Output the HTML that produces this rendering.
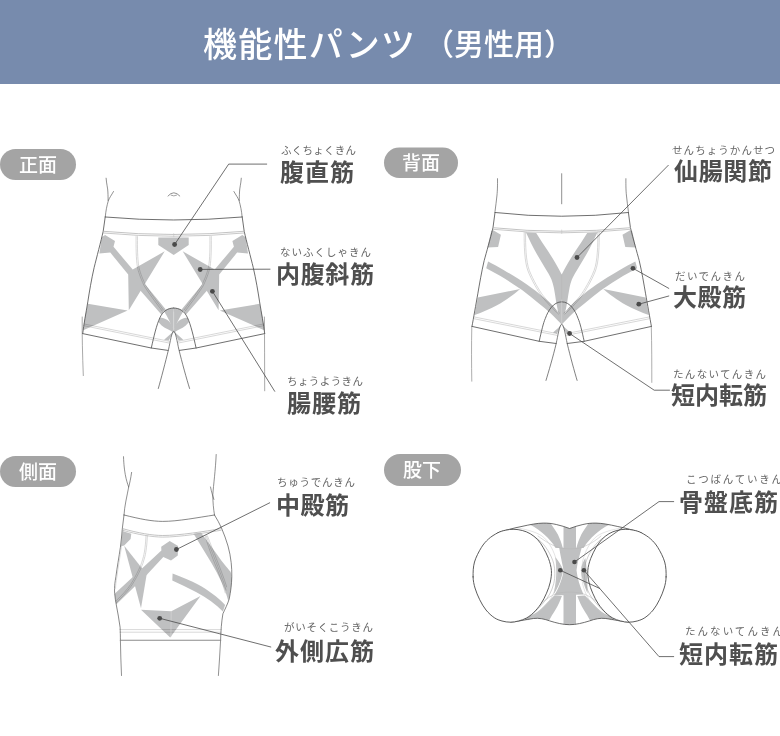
<!DOCTYPE html>
<html><head><meta charset="utf-8"><title>機能性パンツ</title>
<style>html,body{margin:0;padding:0;background:#fff;font-family:"Liberation Sans",sans-serif}svg{display:block}.sr{position:absolute;left:0;top:0;width:1px;height:1px;overflow:hidden;clip:rect(0 0 0 0);clip-path:inset(50%);white-space:nowrap;opacity:0}body{width:780px;height:736px;overflow:hidden;position:relative}
svg text{font-family:"Liberation Sans","Noto Sans CJK JP",sans-serif}
.ttl{fill:#fff;font-weight:500}
.badge{fill:#fff;font-size:19px;font-weight:500;text-anchor:middle}
.lbl{fill:#4f4f4f;font-size:24px;font-weight:700}
.rb{fill:#666666;font-size:10.5px}
</style>
</head><body>
<svg width="780" height="736" viewBox="0 0 780 736" role="img" aria-label="機能性パンツ（男性用）">
<rect x="0" y="0" width="780" height="84" fill="#778bad"/>
<text class="ttl" x="203" y="57" font-size="34" textLength="212" lengthAdjust="spacing">機能性パンツ</text>
<text class="ttl" x="424" y="55" font-size="30">（男性用）</text>
<rect x="0" y="149" width="76" height="31" rx="15.5" fill="#a4a4a4"/><text class="badge" x="38" y="172">正面</text>
<rect x="384" y="147.5" width="74" height="30.5" rx="15.25" fill="#a4a4a4"/><text class="badge" x="421" y="170">背面</text>
<rect x="0" y="456" width="76" height="31" rx="15.5" fill="#a4a4a4"/><text class="badge" x="38" y="478.5">側面</text>
<rect x="384" y="454" width="77" height="32" rx="16.0" fill="#a4a4a4"/><text class="badge" x="422" y="477">股下</text>
<text class="lbl" x="280" y="181" textLength="74" lengthAdjust="spacing">腹直筋</text>
<text class="rb" x="281" y="154" textLength="75" lengthAdjust="spacing">ふくちょくきん</text>
<text class="lbl" x="276" y="283" textLength="98" lengthAdjust="spacing">内腹斜筋</text>
<text class="rb" x="280" y="256" textLength="91" lengthAdjust="spacing">ないふくしゃきん</text>
<text class="lbl" x="287" y="412" textLength="74" lengthAdjust="spacing">腸腰筋</text>
<text class="rb" x="287" y="385" textLength="76" lengthAdjust="spacing">ちょうようきん</text>
<text class="lbl" x="674" y="180" textLength="98" lengthAdjust="spacing">仙腸関節</text>
<text class="rb" x="672" y="154" textLength="103" lengthAdjust="spacing">せんちょうかんせつ</text>
<text class="lbl" x="673" y="306" textLength="73" lengthAdjust="spacing">大殿筋</text>
<text class="rb" x="675" y="280" textLength="70" lengthAdjust="spacing">だいでんきん</text>
<text class="lbl" x="671" y="404" textLength="96" lengthAdjust="spacing">短内転筋</text>
<text class="rb" x="673" y="378" textLength="93" lengthAdjust="spacing">たんないてんきん</text>
<text class="lbl" x="276" y="514" textLength="73" lengthAdjust="spacing">中殿筋</text>
<text class="rb" x="277" y="485.5" textLength="78" lengthAdjust="spacing">ちゅうでんきん</text>
<text class="lbl" x="275" y="659.5" textLength="99" lengthAdjust="spacing">外側広筋</text>
<text class="rb" x="284" y="631" textLength="89" lengthAdjust="spacing">がいそくこうきん</text>
<text class="lbl" x="679" y="511" textLength="99" lengthAdjust="spacing">骨盤底筋</text>
<text class="rb" x="686" y="482.5" textLength="96" lengthAdjust="spacing">こつばんていきん</text>
<text class="lbl" x="679" y="663" textLength="99" lengthAdjust="spacing">短内転筋</text>
<text class="rb" x="685" y="634.5" textLength="98" lengthAdjust="spacing">たんないてんきん</text>
<!-- ===== FRONT VIEW ===== -->
<g id="front" fill="none" stroke-linecap="round" stroke-linejoin="round">
  <defs>
    <g id="frontL">
      <!-- gray shapes -->
      <g fill="#bfc0c1" stroke="none">
        <path d="M105.1,235 L115,241 L113.5,246.8 L132.7,269.6 L164.7,251.3 L128.8,310.3 L128.2,274.4 L110.3,252.6 L99.4,253.5 L101.7,237.2 Z"/>
        <path d="M132,281 L136,285.5 L140.8,290.9 L160.7,313.7 L161.6,314.6 C162.8,312.6 164.2,310.9 165.8,309.6 L144.4,283.5 L139,277 Z"/>
        <path d="M164,311.2 C166.5,309 170,308 173.7,308 L173.7,331.3 C171.3,324.5 168,317.5 164,311.2 Z"/>
        <path d="M159.6,317.6 C162.5,317.8 165,318.6 167,319.8 C169.5,321.4 171.3,323.8 172.3,326 L173.7,330.3 L173.7,333 C172,331.6 170.3,330.6 168.3,329.6 C165.8,328.4 163.5,327 161.6,325.4 L158.6,322.2 Z"/>
        <path d="M173.7,331.3 L164.1,339.8 L168.8,340.4 Z"/>
        <path d="M87.8,303.8 L127.6,310.5 L83.2,330.2 L84.6,319 Z"/>
      </g>
      <!-- light seams -->
      <g stroke="#bebebe" stroke-width="0.6" style="mix-blend-mode:multiply">
        <path d="M136.1,236.5 C135.9,248 136.2,259 137.3,266.4 C138.4,272 140,276.5 144,285.5 C148,292 155,301.5 162.2,311"/>
        <path d="M137.5,236.6 C137.3,248 137.6,258.8 138.7,266 C139.8,271.6 141.4,276 145.3,284.7 C149.3,291.2 156.2,300.6 163.4,310"/>
        <path d="M84,324 L169.2,341.3"/>
        <path d="M83.8,325.7 L169,343"/>
      </g>
      <!-- torso -->
      <g stroke="#555" stroke-width="0.65">
        <path d="M106.1,178.2 C106.5,184 107.8,188 107.9,192 C108,196 108.2,198 108.1,200.5"/>
        <path d="M113.5,191.5 C111.5,195 109.3,198 108.3,200.8 C106.8,206 105.8,211 105.3,216.7"/>
      </g>
      <!-- shorts outline -->
      <g stroke="#4a4a4a" stroke-width="0.8">
        <path d="M105.2,217 L103.2,231.3 C101,241 96.5,258 94.2,267.3 C91.5,279 89.3,292 87.8,301.9 C86,313 83.8,324 82.7,333.6"/>
        <path d="M82.7,333.6 L151.3,348 L168,350.4"/>
        <path d="M151.3,348 C154,336 156.5,325 160,317.5 C163,311 168,308 173.7,308"/>
      </g>
    </g>
  </defs>
  <use href="#frontL"/>
  <use href="#frontL" transform="translate(347.4,0) scale(-1,1)"/>
  <!-- waistband -->
  <path d="M105.2,217 Q173.7,223 242.2,217" stroke="#4a4a4a" stroke-width="0.8"/>
  <path d="M103.2,231.3 Q173.7,237.7 244.2,231.3" stroke="#a9a9a9" stroke-width="0.7"/>
  <path d="M103.4,233 Q173.7,239.5 244,233" stroke="#b2b2b2" stroke-width="0.7"/>
  <path d="M158.3,237.4 L188.7,237.4 L188.7,245 L173.7,255.1 L158.3,245 Z" fill="#bfc0c1" stroke="none"/>
  <!-- center seam -->
  <path d="M173.7,312 L173.7,331" stroke="#dedede" stroke-width="0.6"/>
  <path d="M173.7,233.6 L173.7,236.8" stroke="#bbb" stroke-width="0.5"/>
  <!-- belly button -->
  <path d="M168,196 Q173.7,189.3 179.8,196" stroke="#555" stroke-width="0.65"/>
  <path d="M171,195.2 Q173.8,196.8 176.6,195.2" stroke="#666" stroke-width="0.6"/>
  <!-- legs -->
  <g stroke="#6e6e6e" stroke-width="0.6">
    <path d="M82.2,317 C82,335 82.5,355 83.3,375.6"/>
    <path d="M264.4,317 C264.6,340 264.6,365 264.7,390.8"/>
  </g>
  <g stroke="#4a4a4a" stroke-width="0.7">
    <path d="M158.3,388.5 C161,379 165.5,362 168.6,349.2 C170.2,342 171.8,331.3 173.7,331.3 C175.6,331.3 177.2,342 178.8,349.2 C181.9,362 186.6,379 189.6,388.5"/>
  </g>
  <!-- leaders -->
  <g stroke="#4a4a4a" stroke-width="0.8">
    <path d="M174.6,244.5 L228.7,164.1 L266.7,164.1"/>
    <path d="M200.2,269.4 L270,269.2"/>
    <path d="M212.4,291.3 L274.7,391.3"/>
  </g>
  <g fill="#4a4a4a" stroke="none">
    <circle cx="174.6" cy="244.5" r="2.4"/>
    <circle cx="200.2" cy="269.5" r="2.4"/>
    <circle cx="212.4" cy="291.3" r="2.4"/>
  </g>
</g>
<!-- ===== BACK VIEW ===== -->
<g id="back" fill="none" stroke-linecap="round" stroke-linejoin="round">
  <defs>
    <g id="backL">
      <g fill="#bfc0c1" stroke="none">
        <path d="M493.2,230.3 L500.9,234.8 L498.1,247 L487.4,247.6 L491.3,231 Z"/>
        <path d="M488.1,261.5 C493,264 498.5,267 503.6,270 C512,275 520,279.8 526.9,284.4 C533,288.6 538.5,293 543.1,296.9 C547,300 550.2,303 553,305.9 C555.2,308.3 557,310.8 558.3,313.1 L561.7,318 L561.7,324.5 C560.2,323 558.8,321.6 557.5,320.3 C555,317.8 552.8,315.4 550.3,313.1 C546.5,309.6 542.6,306.4 538.6,303.2 C533.5,299 528,294.4 522.4,290.2 C515,285 507.5,280.2 500,275.8 C495.5,273.2 490.8,270.7 486.2,268.2 Z"/>
        <path d="M520.1,288.9 L477.8,297.6 L474.6,315 C482,312.5 490,309 497,305.3 C502,302.5 506.5,299.5 509.9,297 C514,294 517,291.5 520.1,288.9 Z"/>
        <path d="M561.5,324.9 L553,332.6 L557,333.4 Z"/>
      </g>
      <g stroke="#bebebe" stroke-width="0.6" style="mix-blend-mode:multiply">
        <path d="M524.2,232.3 C524,245 524.5,262 528,271 C532,281 538,291 541.9,296.4 C548,304 554,310 558.6,314"/>
        <path d="M525.6,232.4 C525.4,245 525.9,261.6 529.3,270.4 C533.2,280.2 539.1,290.2 543,295.5 C549,303.1 555,309 559.5,313"/>
        <path d="M474.5,317 L557,333.6"/>
        <path d="M474.3,318.8 L556.8,335.3"/>
      </g>
      <g stroke="#555" stroke-width="0.65">
        <path d="M497.5,178.7 C497.6,186 497.4,191 497,195 C496.5,201 495.6,206 495,211.5"/>
      </g>
      <g stroke="#4a4a4a" stroke-width="0.8">
        <path d="M495,212.5 L493,227.5 C490,240 486.5,252 484.2,260.5 C481.5,272 479.5,284 477.8,293.8 C476,304 473.5,318 472,326.4"/>
        <path d="M472,326.4 L539.2,341.3 L556.2,343.5"/>
        <path d="M539.2,341.3 C541.5,331 543.3,323 545.3,318.5 C548,311 553,301.8 561.7,301.8"/>
      </g>
    </g>
  </defs>
  <!-- Y shape -->
  <path fill="#bfc0c1" stroke="none" d="M525.9,232.3 C529,239 533,247.5 536.8,254 C541,261 545,268 548.3,273.3 C550.5,277 552.5,281 553.9,288 C554.8,292.5 555.4,297 556.1,301.4 C556.9,306 557.8,310.5 558.8,314.9 C559.6,318.3 560.6,321.5 561.7,324 C562.8,321.5 563.8,318.3 564.6,314.9 C565.6,310.5 566.5,306 567.3,301.4 C568,297 568.6,292.5 569.5,288 C570.9,281 572.9,277 575.1,273.3 C578.4,268 582.4,261 586.6,254 C590.4,247.5 594.4,239 597.5,232.3 L587.2,232.9 C583.4,239 579.4,245.5 575.1,251.5 C570.4,259 565.4,267 561.7,274.6 C558,267 553,259 548.3,251.5 C544,245.5 540,239 536.2,232.9 Z"/>
  <use href="#backL"/>
  <use href="#backL" transform="translate(1123.4,0) scale(-1,1)"/>
  <path d="M495,212.5 Q561.7,220 628.4,212.5" stroke="#4a4a4a" stroke-width="0.8"/>
  <path d="M493,227.7 Q561.7,234.8 630.4,227.7" stroke="#a9a9a9" stroke-width="0.7"/>
  <path d="M493.1,229.3 Q561.7,236.4 630.3,229.3" stroke="#b2b2b2" stroke-width="0.7"/>
  <path d="M561.7,275 L561.7,300" stroke="#b4b5b6" stroke-width="0.5"/>
  <path d="M561.7,300 L561.7,324" stroke="#d6d6d6" stroke-width="0.6"/>
  <path d="M561.7,230 L561.7,233.4" stroke="#bbb" stroke-width="0.5"/>
  <path d="M561.7,173.7 L561.7,203.8" stroke="#555" stroke-width="0.65"/>
  <g stroke="#777" stroke-width="0.6">
    <path d="M471.8,326.8 C471.4,345 471.5,365 471.8,381.2"/>
    <path d="M651.3,326.8 C651.8,345 651.8,365 651.8,382.4"/>
  </g>
  <path stroke="#4a4a4a" stroke-width="0.7" d="M546,380.4 C548.5,372 553,357 556.2,343.5 C557.8,336 559.6,324.2 561.7,324.2 C563.8,324.2 565.6,336 567.2,343.5 C570.4,357 574.6,372 577.1,380.4"/>
  <g stroke="#4a4a4a" stroke-width="0.8">
    <path d="M577,257.5 L668.3,165.3"/>
    <path d="M633,268.3 L668.8,288.4"/>
    <path d="M638.8,304.2 L668.8,296"/>
    <path d="M569.6,333.5 L654.2,390.2 L669.5,390.2"/>
  </g>
  <g fill="#4a4a4a" stroke="none">
    <circle cx="577" cy="257.5" r="2.4"/>
    <circle cx="633" cy="268.3" r="2.4"/>
    <circle cx="638.8" cy="304.2" r="2.4"/>
    <circle cx="569.6" cy="333.5" r="2.4"/>
  </g>
</g>
<!-- ===== SIDE VIEW ===== -->
<g id="side" fill="none" stroke-linecap="round" stroke-linejoin="round">
  <g fill="#bfc0c1" stroke="none">
    <path d="M123,531.3 L131.3,533.8 L130.6,539 L124.2,545.4 L120.8,546.2 L122.4,531 Z"/>
    <path d="M124.2,545.8 L146.7,574.2 L141,608.2 Z"/>
    <path d="M169.7,540.9 L178.1,546 L177.8,555.6 L171,560.4 L163.3,556.9 L147.3,574.2 L116.2,604.5 L114.7,593.8 L161.4,550.5 L161.2,546.7 Z"/>
    <path d="M193.6,533.8 L201,532.6 C205,538.5 209.5,544 213.8,549.9 C217.5,555 221,560 224.1,564 C226.5,567 229,570 230.5,571.7 C231.5,574 231.8,577 231.8,580 C231.5,588 230,595 228.3,601 C226.5,594 224,587 221.5,581.9 C218.5,575.5 215,569 211.3,562.7 C205.5,553 199.5,543.5 193.6,533.8 Z"/>
    <path d="M172.6,573.6 C182,577 191,581 198.5,584.8 C208,590 218,597.5 225.1,604.9 L222.9,611.6 C216,604.5 207,597.5 196,592 C188,588 180,584 172.3,580.6 Z"/>
    <path d="M141,609.8 L171.3,611.2 L200.5,595.9 L170.2,637.4 Z"/>
  </g>
  <g stroke="#bebebe" stroke-width="0.6" style="mix-blend-mode:multiply">
    <path d="M146,535.8 C145.5,545 144.8,551 143.5,556.3 C142.3,561 141,565 139,569.1 C136.5,574.5 133.5,580 130.6,584.5 C127.5,589 122,595.5 115.8,601"/>
    <path d="M147.4,535.9 C146.9,545 146.2,551.2 144.9,556.6 C143.7,561.3 142.4,565.4 140.4,569.5 C137.9,574.9 134.9,580.4 132,584.9 C128.9,589.4 123,596.5 116.2,602.6"/>
    <path d="M207.4,535.8 C210.5,544 213.5,551.5 216.4,558.8 C220,568 224,578 226.7,587"/>
    <path d="M206.2,535.6 C209,544 211.8,551.5 214.8,559 C218.5,568.5 223,579 226,590"/>
    <path d="M205,535.4 C207.5,544 210.2,552 213.2,559.5 C217,569 221.8,580 225.3,593"/>
    <path d="M119.8,629.6 L221.3,629.6"/>
    <path d="M120,632.2 L221.1,632.2"/>
  </g>
  <path d="M122.9,528.7 C138,533 152,535.5 162.7,535.5 C180,535.5 205,531.3 220.9,528.7" stroke="#a9a9a9" stroke-width="0.7"/>
  <path d="M122.7,530.3 C138,534.6 152,537.1 162.7,537.1 C180,537.1 205,532.9 221.3,530.2" stroke="#b2b2b2" stroke-width="0.7"/>
  <g stroke="#555" stroke-width="0.65">
    <path d="M123.5,456.7 C123.8,465 124.5,470 125.3,474.7 C126.3,480 127.5,484 128.7,487 C127,496 124.5,506 124,515"/>
    <path d="M131.6,472.4 C130.8,478 129.8,483 128.7,487"/>
    <path d="M216.2,454.5 C215.5,470 213.5,485 212.8,494.9 C212.8,502 213.5,509 214.5,515"/>
    <path d="M210.5,487 C211.5,492 212.8,496 213.9,499.4"/>
    <path d="M120.4,640.3 C120.6,652 121,664 121.5,675.5"/>
    <path d="M220.6,640.3 C220,652 219.2,664 218.4,675.5"/>
  </g>
  <g stroke="#555" stroke-width="0.7">
    <path d="M124,515 C140,519 152,521.4 162.7,521.4 C178,521.4 198,517.5 214.5,515"/>
    <path d="M124,515 L122.3,528.7 C121.8,535 121.2,541 120.4,547.3 C119,557 117,568 115.9,576.8 C115,582 114.6,585 114.6,588.3 C114.5,590 114.5,592 114.7,593.6 C115,597.5 115.6,601 116.3,604.9 C117.5,612 119.3,620 120.1,627.3 C120.3,631 120.4,636 120.4,640.3"/>
    <path d="M214.5,515 C217,519 219.5,523.5 221.5,528 C224,534 226.3,540 228,546 C229.5,551.5 230.6,557 231.2,562.7 C231.7,567.5 231.9,572 231.8,576.8 C231.6,584 230.8,591.5 229.2,599 C227.5,604.5 225,609 222.9,613.8 C221.5,622 220.8,631 220.6,640.3"/>
  </g>
  <path d="M120.4,640.3 L220.6,640.3" stroke="#8c8c8c" stroke-width="1.1"/>
  <path d="M171.2,611.5 L170.9,636.5" stroke="#d9d9d9" stroke-width="0.6"/>
  <path d="M123.3,529.5 C122.8,535 122.2,541 121.4,547.3 C120,557 118,568 116.9,576.8 C116,582 115.6,585 115.6,588.3" stroke="#bdbdbd" stroke-width="0.5"/>
  <g stroke="#4a4a4a" stroke-width="0.8">
    <path d="M176.4,549.5 L269.7,502.8"/>
    <path d="M159.7,618.3 L270.8,647"/>
  </g>
  <g fill="#4a4a4a" stroke="none">
    <circle cx="176.4" cy="549.5" r="2.4"/>
    <circle cx="159.7" cy="618.3" r="2.4"/>
  </g>
</g>
<!-- ===== BOTTOM VIEW ===== -->
<g id="bottom" fill="none" stroke-linecap="round" stroke-linejoin="round">
  <defs>
    <clipPath id="botClip">
      <path d="M497.6,532.9 C506,530 514,528 522,526.4 C530,524.6 537,523.2 543.2,523.1 C548,523 552,523.5 556.3,524.5 C561,525.5 565.5,527 569.6,528.5 C573.7,527 578.2,525.5 582.9,524.5 C587.2,523.5 591.2,523 596,523.1 C602.2,523.2 609.2,524.6 617.2,526.4 C625.2,528 633.2,530 641.6,532.9 L628.6,622.2 C621.2,621.5 613.2,619.5 605.8,618.5 C600.2,617.8 594.7,619 589.5,620.9 C582.7,623 576.2,624.7 569.6,624.7 C563,624.7 556.5,623 549.7,620.9 C544.5,619 539,617.8 533.4,618.5 C526,619.5 518,621.5 510.6,622.2 Z"/>
    </clipPath>
    <g id="botGrayL">
      <path d="M529,522 L549.7,522 C553,527 556,531 557.9,534.6 C560,539 561.8,544 562.8,547.9 L555.6,547.9 C552.5,542.5 548.5,538.5 544.5,534.8 C541,531.5 536,527.5 529,524.3 Z"/>
      <path d="M554.3,595.6 L561.9,596 C560,601 558,605.5 555.6,609.5 C553.5,613 551,616.5 548.1,622.5 L525,624 L525,617 C532,615.5 538,612.5 544,605.9 C548,602 551.5,598.5 554.3,595.6 Z"/>
    </g>
    <g id="botLinesL">
      <path d="M518.8,530.5 C527,533 533,536 538.3,539.4 C545,544.5 551.5,555 553.8,563.9 C555.2,570 555.2,577.5 553.8,583.4 C552,591 548,598 543.2,603 C538,609 532,615 526.9,619.3" stroke="#9e9e9e" stroke-width="0.5"/>
      <path d="M516,527.6 C527,529.5 536,532 542,536 C549,541 554.5,552 556.5,561 C558,569 558,578 556.3,585 C554,594 550,601 545,606 C540,611 534,616 528,620" stroke="#c9c9c9" stroke-width="0.5"/>
    </g>
    <path id="legOpen" d="M473.1,576.9 C473.0,572.6 473.1,566.9 474.5,562.0 C475.9,557.1 479.0,551.4 481.3,547.6 C483.6,543.8 485.8,541.5 488.5,539.0 C491.2,536.5 494.8,534.4 497.6,532.9 C500.4,531.4 502.8,530.8 505.5,530.2 C508.2,529.6 511.1,529.2 513.9,529.3 C516.7,529.3 519.6,529.8 522.3,530.5 C525.0,531.2 527.7,532.2 530.2,533.7 C532.7,535.2 535.3,537.2 537.5,539.5 C539.7,541.8 541.4,544.4 543.2,547.6 C545.0,550.8 547.1,554.7 548.5,558.5 C549.9,562.3 551.1,566.5 551.4,570.4 C551.7,574.3 551.1,578.2 550.3,582.0 C549.5,585.8 548.1,589.5 546.5,593.2 C544.9,596.9 543.0,600.7 540.8,604.0 C538.6,607.3 535.8,610.5 533.4,612.8 C531.0,615.1 528.9,616.6 526.5,618.0 C524.1,619.4 521.4,620.2 518.8,620.9 C516.1,621.6 513.4,622.2 510.6,622.2 C507.8,622.2 504.7,621.8 502.0,621.0 C499.3,620.2 497.0,619.5 494.3,617.7 C491.6,615.9 488.4,613.0 486.0,610.0 C483.6,607.0 481.5,603.4 479.7,599.7 C477.9,596.0 476.1,591.8 475.0,588.0 C473.9,584.2 473.2,581.2 473.1,576.9 Z"/>
  </defs>
  <g clip-path="url(#botClip)" fill="#bfc0c1" stroke="none">
    <rect x="563.5" y="518" width="12.5" height="112"/>
    <path d="M559.2,547.8 C560.5,556 562.5,565 563.7,570.3 C562.5,578 559,588 554.3,595.6 L583.5,594.4 C580,587 577.3,578 576.5,570.3 C577.5,562 580,554 581.7,547.8 Z"/>
    <use href="#botGrayL"/>
    <use href="#botGrayL" transform="translate(1139.2,0) scale(-1,1)"/>
    <path d="M555.2,557 C556,562 556.3,567 556.3,571 C556.3,577 555.8,584 553.5,594.8 C557,589 560,583 561.5,577 C562.3,574 563,572 563.3,570.3 C561.5,565.5 558.5,560.5 555.2,557 Z"/>
    <path d="M585.3,558 C583,562 581.3,566 580.8,570.3 C581.5,577 584,586 587.5,593.5 C587.6,586 587.2,578 586.6,570.3 C586.5,566 586,562 585.3,558 Z"/>
  </g>
  <!-- light seams -->
  <g stroke="#b5b5b5" stroke-width="0.5">
    <path d="M538,536 C544,540.5 553,546.5 561.9,548.3 C567,549 573,549 578.1,548.3 C586,546.5 595,541.5 601,536"/>
    <path d="M540,604 C546,599 552,595 557.4,593.3 C565,591.6 574,591.6 581.7,593.3 C588,595 594,599 599.6,604"/>
  </g>
  <use href="#botLinesL"/>
  <use href="#botLinesL" transform="translate(1139.2,0) scale(-1,1)"/>
  <!-- outer top / bottom -->
  <g stroke="#4a4a4a" stroke-width="0.8">
    <path d="M497.6,532.9 C506,530 514,528 522,526.4 C530,524.6 537,523.2 543.2,523.1 C548,523 552,523.5 556.3,524.5 C561,525.5 565.5,527 569.6,528.5 C573.7,527 578.2,525.5 582.9,524.5 C587.2,523.5 591.2,523 596,523.1 C602.2,523.2 609.2,524.6 617.2,526.4 C625.2,528 633.2,530 641.6,532.9"/>
    <path d="M510.6,622.2 C518,621.5 526,619.5 533.4,618.5 C539,617.8 544.5,619 549.7,620.9 C556.5,623 563,624.7 569.6,624.7 C576.2,624.7 582.7,623 589.5,620.9 C594.7,619 600.2,617.8 605.8,618.5 C613.2,619.5 621.2,621.5 628.6,622.2"/>
  </g>
  <!-- leg openings -->
  <g fill="#fff" stroke="#4a4a4a" stroke-width="0.9">
    <use href="#legOpen"/>
    <use href="#legOpen" transform="translate(1139.2,0) scale(-1,1)"/>
  </g>
  <g stroke="#4a4a4a" stroke-width="0.8">
    <path d="M574.5,562 L659,501.6 L673.7,501.6"/>
    <path d="M583.9,570.3 L659,656.6 L673.7,656.6"/>
    <path d="M560.3,570.3 L599.6,588.4"/>
  </g>
  <g fill="#4a4a4a" stroke="none">
    <circle cx="560.3" cy="570.3" r="2.3"/>
    <circle cx="574.5" cy="562" r="2.3"/>
    <circle cx="583.9" cy="570.3" r="2.3"/>
  </g>
</g>

</svg>
<div class="sr">
<h1>機能性パンツ（男性用）</h1>
<section><h2>正面</h2><ul><li><ruby>腹直筋<rt>ふくちょくきん</rt></ruby></li><li><ruby>内腹斜筋<rt>ないふくしゃきん</rt></ruby></li><li><ruby>腸腰筋<rt>ちょうようきん</rt></ruby></li></ul></section>
<section><h2>背面</h2><ul><li><ruby>仙腸関節<rt>せんちょうかんせつ</rt></ruby></li><li><ruby>大殿筋<rt>だいでんきん</rt></ruby></li><li><ruby>短内転筋<rt>たんないてんきん</rt></ruby></li></ul></section>
<section><h2>側面</h2><ul><li><ruby>中殿筋<rt>ちゅうでんきん</rt></ruby></li><li><ruby>外側広筋<rt>がいそくこうきん</rt></ruby></li></ul></section>
<section><h2>股下</h2><ul><li><ruby>骨盤底筋<rt>こつばんていきん</rt></ruby></li><li><ruby>短内転筋<rt>たんないてんきん</rt></ruby></li></ul></section>
</div>
</body></html>
